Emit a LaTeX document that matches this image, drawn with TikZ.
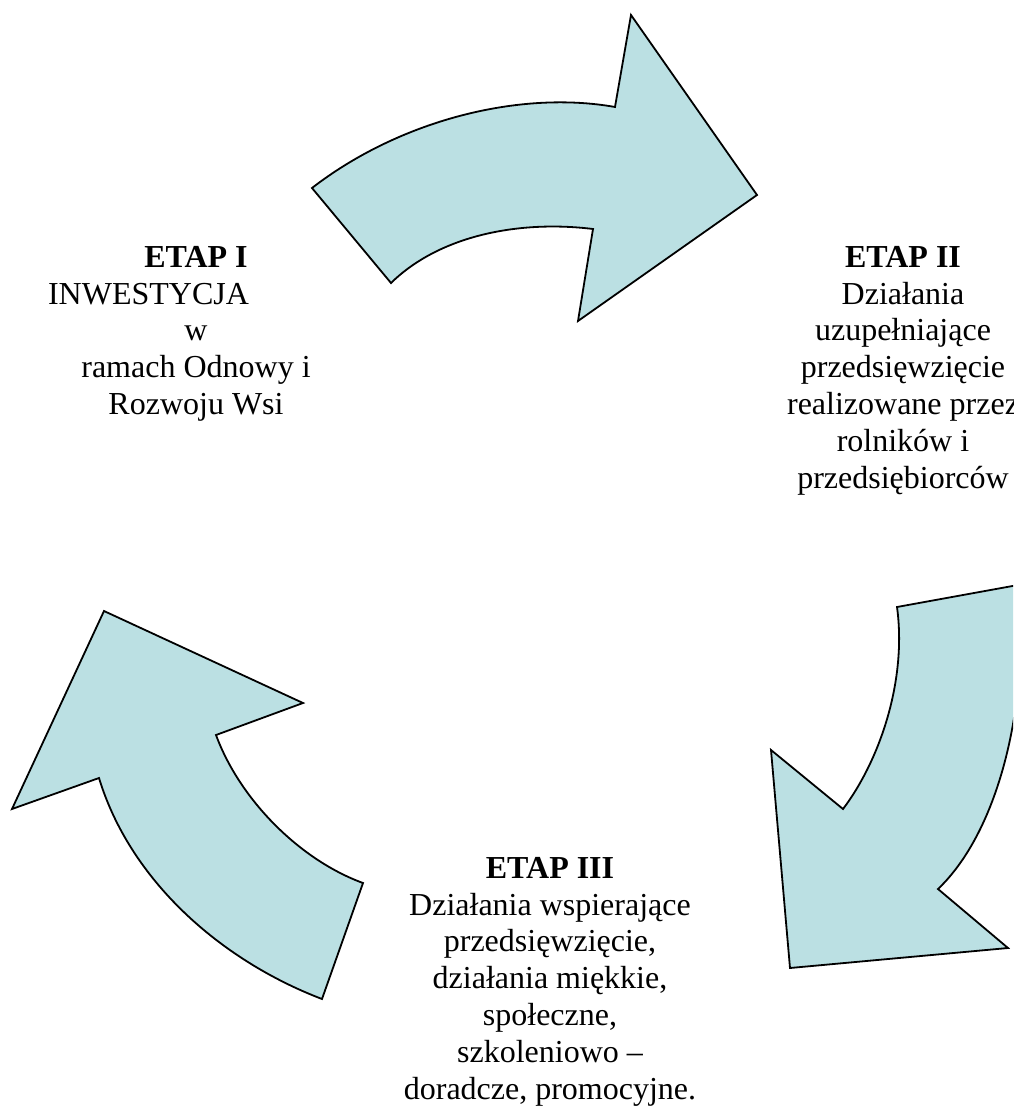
\documentclass[tikz,border=0pt]{standalone}
\usepackage{fontspec}
\setmainfont{Liberation Serif}
\definecolor{arrowblue}{RGB}{187,224,227}

\begin{document}
\begin{tikzpicture}[x=1pt, y=-1pt,
  bigarrow/.style={draw=black, fill=arrowblue, line width=1.8pt, line join=miter},
  etap/.style={align=center, inner sep=0pt, anchor=north, font=\fontsize{32}{36.8}\selectfont}]
  \useasboundingbox (0,0) rectangle (1013,1106);
  \clip (0,0) rectangle (1013,1106);

  % arrows of the cycle
  \draw[bigarrow] (312,188) -- (391,283) .. controls (440,235) and (520,220) .. (593,229)
    -- (578,321) -- (757,195) -- (631,15) -- (615,107)
    .. controls (520,90) and (400,120) .. (312,188) -- cycle;
  \draw[bigarrow] (897,607) .. controls (907,680) and (880,760) .. (843,809)
    -- (771,750) -- (790,968) -- (1008,948) -- (938,889)
    .. controls (1000,830) and (1030,700) .. (1018,585) -- cycle;
  \draw[bigarrow] (104,611) -- (303,703) -- (216,735)
    .. controls (240,800) and (300,860) .. (363,883) -- (322,999)
    .. controls (220,960) and (130,880) .. (99,778) -- (12,809) -- cycle;

  % stages
  \node[etap] (etap1) at (196,246) {\textbf{ETAP I}\\ INWESTYCJA\hbox to 95pt{}\\ w\\ ramach Odnowy i\\ Rozwoju Wsi};
  \node[etap] (etap2) at (903,246) {\textbf{ETAP II}\\ Działania\\ uzupełniające\\ przedsięwzięcie\\ realizowane przez\\ rolników i\\ przedsiębiorców};
  \node[etap] (etap3) at (550,857) {\textbf{ETAP III}\\ Działania wspierające\\ przedsięwzięcie,\\ działania miękkie,\\ społeczne,\\ szkoleniowo –\\ doradcze, promocyjne.};
\end{tikzpicture}
\end{document}
